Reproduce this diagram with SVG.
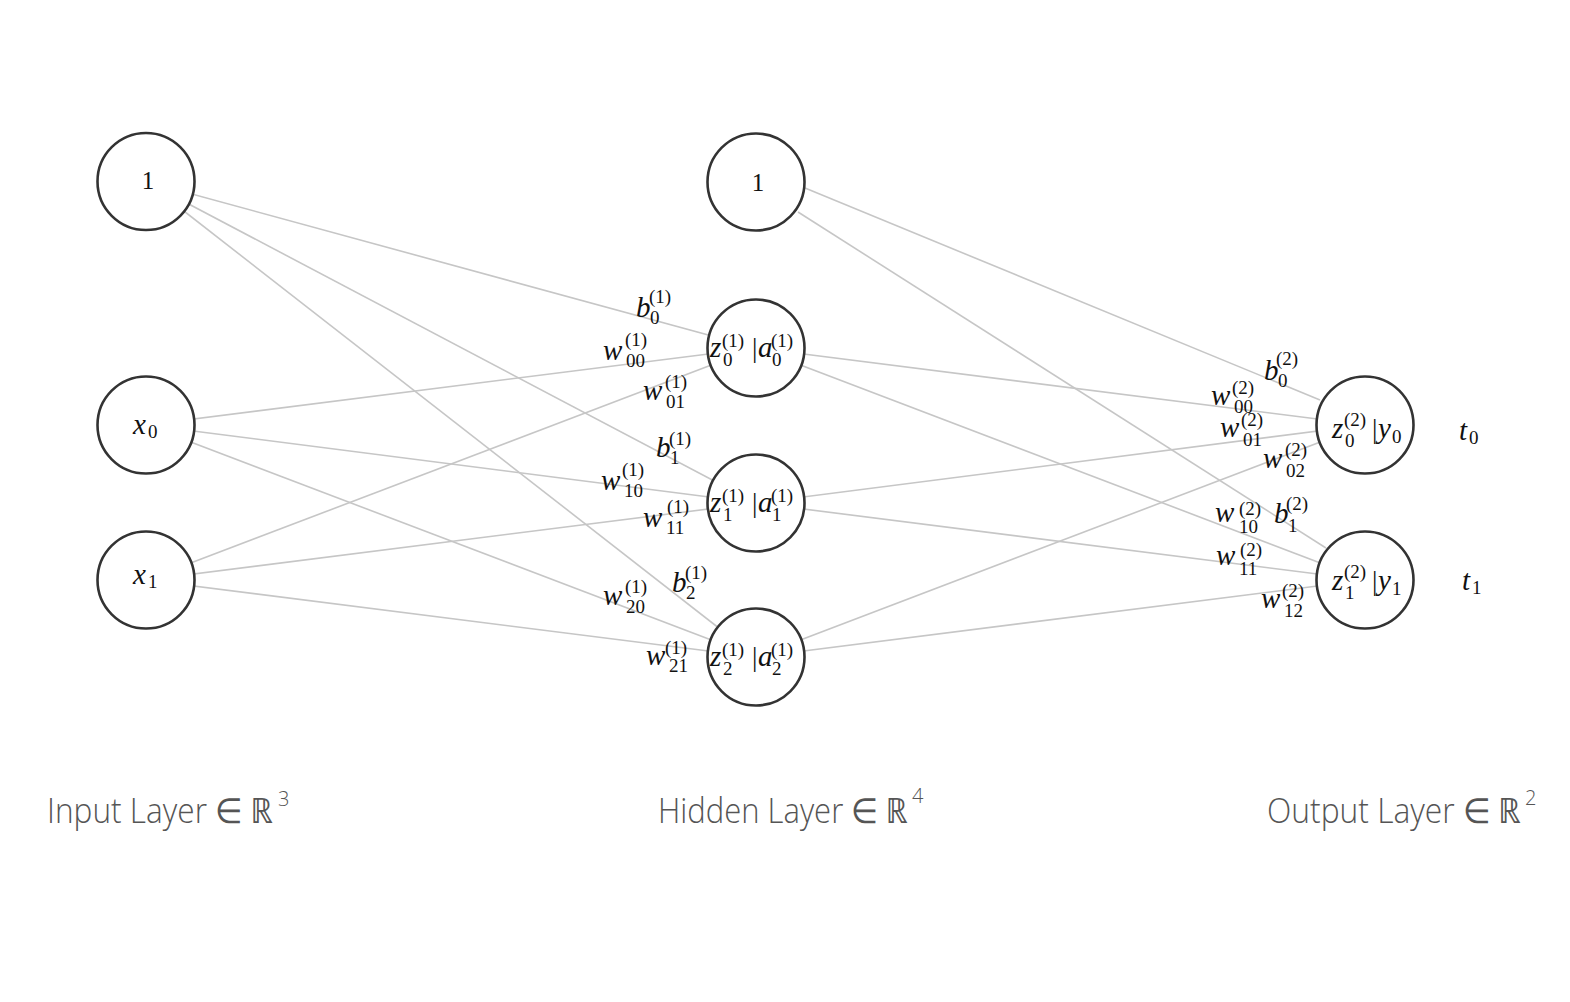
<svg xmlns="http://www.w3.org/2000/svg" width="1570" height="1002" viewBox="0 0 1570 1002">
<style>
.bg{fill:#ffffff}
.e{stroke:#c6c6c6;stroke-width:1.6;fill:none}
.n{fill:#ffffff;stroke:#333333;stroke-width:2.6}
.m{font-family:"Liberation Serif","Times New Roman",serif;fill:#111111;font-size:29px}
.i{font-style:italic}
.s{font-size:19px;font-style:normal}
.u{font-size:25px;font-style:normal}
.bar{font-size:27px;font-style:normal}
.lay{font-family:"Open Sans","Noto Sans","DejaVu Sans",sans-serif;font-weight:300;font-size:35px;fill:#555555}
.lays{font-size:20px}
</style>
<rect class="bg" x="0" y="0" width="1570" height="1002"/>
<g id="connectors">
<line class="e" x1="146" y1="181.5" x2="756" y2="348"/>
<line class="e" x1="146" y1="181.5" x2="756" y2="503"/>
<line class="e" x1="146" y1="181.5" x2="756" y2="657"/>
<line class="e" x1="146" y1="425" x2="756" y2="348"/>
<line class="e" x1="146" y1="425" x2="756" y2="503"/>
<line class="e" x1="146" y1="425" x2="756" y2="657"/>
<line class="e" x1="146" y1="580" x2="756" y2="348"/>
<line class="e" x1="146" y1="580" x2="756" y2="503"/>
<line class="e" x1="146" y1="580" x2="756" y2="657"/>
<line class="e" x1="805" y1="188" x2="1320" y2="400"/>
<line class="e" x1="798" y1="212" x2="1326" y2="548"/>
<line class="e" x1="756" y1="348" x2="1365" y2="425"/>
<line class="e" x1="756" y1="348" x2="1365" y2="580"/>
<line class="e" x1="756" y1="503" x2="1365" y2="425"/>
<line class="e" x1="756" y1="503" x2="1365" y2="580"/>
<line class="e" x1="756" y1="657" x2="1365" y2="425"/>
<line class="e" x1="756" y1="657" x2="1365" y2="580"/>
</g>
<g id="edge-labels" class="m">
<text><tspan class="i" x="636" y="317">b</tspan><tspan class="s" x="650" y="324">0</tspan><tspan class="s" x="649" y="303">(1)</tspan></text>
<text><tspan class="i" x="603" y="360">w</tspan><tspan class="s" x="626" y="367">00</tspan><tspan class="s" x="625" y="346">(1)</tspan></text>
<text><tspan class="i" x="643" y="400">w</tspan><tspan class="s" x="666" y="408">01</tspan><tspan class="s" x="665" y="388">(1)</tspan></text>
<text><tspan class="i" x="656" y="457">b</tspan><tspan class="s" x="670" y="464">1</tspan><tspan class="s" x="669" y="445">(1)</tspan></text>
<text><tspan class="i" x="601" y="490">w</tspan><tspan class="s" x="624" y="497">10</tspan><tspan class="s" x="622" y="476">(1)</tspan></text>
<text><tspan class="i" x="643" y="527">w</tspan><tspan class="s" x="666" y="534">11</tspan><tspan class="s" x="667" y="513">(1)</tspan></text>
<text><tspan class="i" x="672" y="592">b</tspan><tspan class="s" x="686" y="599">2</tspan><tspan class="s" x="685" y="579">(1)</tspan></text>
<text><tspan class="i" x="603" y="605">w</tspan><tspan class="s" x="626" y="613">20</tspan><tspan class="s" x="625" y="593">(1)</tspan></text>
<text><tspan class="i" x="646" y="665">w</tspan><tspan class="s" x="669" y="672">21</tspan><tspan class="s" x="665" y="654">(1)</tspan></text>
<text><tspan class="i" x="1264" y="380">b</tspan><tspan class="s" x="1278" y="387">0</tspan><tspan class="s" x="1276" y="365">(2)</tspan></text>
<text><tspan class="i" x="1211" y="405">w</tspan><tspan class="s" x="1234" y="413">00</tspan><tspan class="s" x="1232" y="394">(2)</tspan></text>
<text><tspan class="i" x="1220" y="437">w</tspan><tspan class="s" x="1243" y="446">01</tspan><tspan class="s" x="1241" y="426">(2)</tspan></text>
<text><tspan class="i" x="1263" y="468">w</tspan><tspan class="s" x="1286" y="477">02</tspan><tspan class="s" x="1285" y="456">(2)</tspan></text>
<text><tspan class="i" x="1215" y="522">w</tspan><tspan class="s" x="1239" y="533">10</tspan><tspan class="s" x="1239" y="515">(2)</tspan></text>
<text><tspan class="i" x="1274" y="523">b</tspan><tspan class="s" x="1288" y="532">1</tspan><tspan class="s" x="1286" y="510">(2)</tspan></text>
<text><tspan class="i" x="1216" y="565">w</tspan><tspan class="s" x="1239" y="575">11</tspan><tspan class="s" x="1240" y="556">(2)</tspan></text>
<text><tspan class="i" x="1261" y="608">w</tspan><tspan class="s" x="1284" y="617">12</tspan><tspan class="s" x="1282" y="597">(2)</tspan></text>
</g>
<g id="node-in-bias">
<circle class="n" cx="146" cy="181.5" r="48.5"/>
<text class="m u" x="148" y="189" text-anchor="middle">1</text>
</g>
<g id="node-x0">
<circle class="n" cx="146" cy="425" r="48.5"/>
<text class="m"><tspan class="i" x="133" y="434">x</tspan><tspan class="s" x="148" y="438">0</tspan></text>
</g>
<g id="node-x1">
<circle class="n" cx="146" cy="580" r="48.5"/>
<text class="m"><tspan class="i" x="133" y="584">x</tspan><tspan class="s" x="148" y="588">1</tspan></text>
</g>
<g id="node-hid-bias">
<circle class="n" cx="756" cy="182" r="48.5"/>
<text class="m u" x="758" y="191" text-anchor="middle">1</text>
</g>
<g id="node-h0">
<circle class="n" cx="756" cy="348" r="48.5"/>
<text class="m"><tspan class="i" x="710" y="357">z</tspan><tspan class="s" x="723" y="366">0</tspan><tspan class="s" x="722" y="347">(1)</tspan><tspan class="bar" x="752" y="357">|</tspan><tspan class="i" x="758" y="357">a</tspan><tspan class="s" x="772" y="366">0</tspan><tspan class="s" x="771" y="347">(1)</tspan></text>
</g>
<g id="node-h1">
<circle class="n" cx="756" cy="503" r="48.5"/>
<text class="m"><tspan class="i" x="710" y="512">z</tspan><tspan class="s" x="723" y="521">1</tspan><tspan class="s" x="722" y="502">(1)</tspan><tspan class="bar" x="752" y="512">|</tspan><tspan class="i" x="758" y="512">a</tspan><tspan class="s" x="772" y="521">1</tspan><tspan class="s" x="771" y="502">(1)</tspan></text>
</g>
<g id="node-h2">
<circle class="n" cx="756" cy="657" r="48.5"/>
<text class="m"><tspan class="i" x="710" y="666">z</tspan><tspan class="s" x="723" y="675">2</tspan><tspan class="s" x="722" y="656">(1)</tspan><tspan class="bar" x="752" y="666">|</tspan><tspan class="i" x="758" y="666">a</tspan><tspan class="s" x="772" y="675">2</tspan><tspan class="s" x="771" y="656">(1)</tspan></text>
</g>
<g id="node-y0">
<circle class="n" cx="1365" cy="425" r="48.5"/>
<text class="m"><tspan class="i" x="1332" y="438">z</tspan><tspan class="s" x="1345" y="447">0</tspan><tspan class="s" x="1344" y="426">(2)</tspan><tspan class="bar" x="1372" y="438">|</tspan><tspan class="i" x="1378" y="438">y</tspan><tspan class="s" x="1392" y="443">0</tspan></text>
</g>
<g id="node-y1">
<circle class="n" cx="1365" cy="580" r="48.5"/>
<text class="m"><tspan class="i" x="1332" y="590">z</tspan><tspan class="s" x="1345" y="599">1</tspan><tspan class="s" x="1344" y="578">(2)</tspan><tspan class="bar" x="1372" y="590">|</tspan><tspan class="i" x="1378" y="590">y</tspan><tspan class="s" x="1392" y="595">1</tspan></text>
</g>
<g id="targets" class="m">
<text><tspan class="i" x="1459" y="440">t</tspan><tspan class="s" x="1469" y="444">0</tspan></text>
<text><tspan class="i" x="1462" y="590">t</tspan><tspan class="s" x="1472" y="594">1</tspan></text>
</g>
<g id="layer-labels" class="lay">
<text><tspan x="47" y="823" textLength="226" lengthAdjust="spacingAndGlyphs">Input Layer ∈ ℝ</tspan><tspan class="lays" x="278" y="806">3</tspan></text>
<text><tspan x="658" y="823" textLength="250" lengthAdjust="spacingAndGlyphs">Hidden Layer ∈ ℝ</tspan><tspan class="lays" x="912" y="803">4</tspan></text>
<text><tspan x="1267" y="823" textLength="254" lengthAdjust="spacingAndGlyphs">Output Layer ∈ ℝ</tspan><tspan class="lays" x="1525" y="805">2</tspan></text>
</g>
</svg>
